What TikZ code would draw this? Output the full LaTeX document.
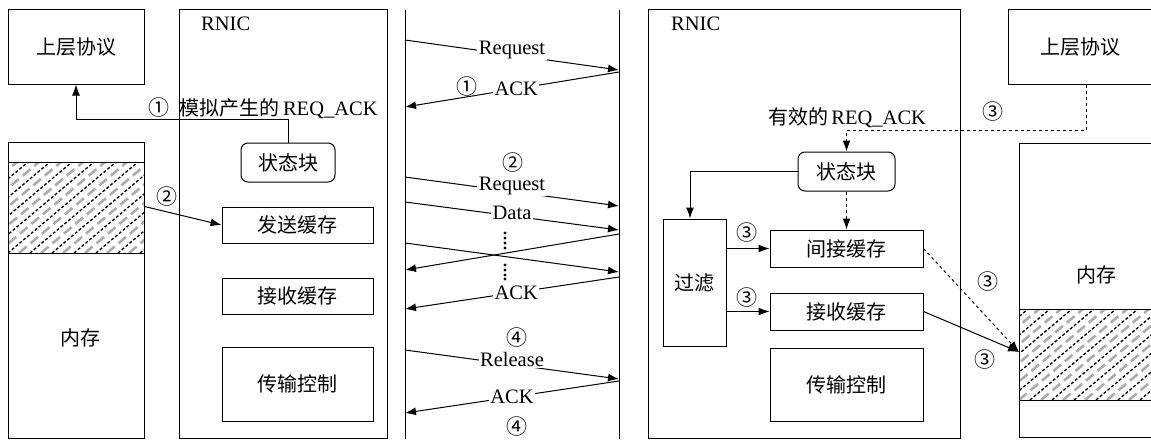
\documentclass[tikz,border=0pt]{standalone}
\usepackage{fontspec}
\setmainfont{Liberation Serif}
\newfontfamily\cjk{Noto Sans CJK SC}
\usetikzlibrary{arrows.meta,calc}
\newcommand\zhtxt[1]{{\cjk\fontsize{20}{23}\selectfont #1}}
\newcommand\circd[1]{{\cjk\fontsize{21}{24}\selectfont #1}}
\begin{document}
\begin{tikzpicture}[x=1pt,y=-1pt,
  every node/.style={font=\fontsize{20.5}{23}\selectfont, inner sep=0pt},
  box/.style={draw, line width=1pt},
  rbox/.style={draw, line width=1pt, rounded corners=7pt},
  arr/.style={-{Latex[length=11pt,width=8pt]}, line width=1pt},
  lbl/.style={fill=white, inner sep=1.5pt},
  life/.style={line width=1pt},
  hatchblack/.style={black, line width=1.3pt, dash pattern=on 3pt off 2pt},
  hatchgray/.style={gray!65, line width=2.6pt, dash pattern=on 10pt off 5pt}]
\useasboundingbox (0,0) rectangle (1151,439);

% ---------------- left part ----------------
\node[box, minimum width=136pt, minimum height=75pt] (up1) at (76,46.5) {\zhtxt{上层协议}};
\node[box, minimum width=208pt, minimum height=429pt] (rnic1) at (283,223.5) {};
\node[anchor=west] (rnic1lbl) at (201,24) {RNIC};
\node[rbox, minimum width=94pt, minimum height=39pt] (st1) at (288,162.5) {\zhtxt{状态块}};
\node[box, minimum width=151pt, minimum height=36pt] (send1) at (297.5,225) {\zhtxt{发送缓存}};
\node[box, minimum width=151pt, minimum height=36pt] (recv1) at (297.5,296) {\zhtxt{接收缓存}};
\node[box, minimum width=151pt, minimum height=74pt] (ctrl1) at (297.5,384) {\zhtxt{传输控制}};

\begin{scope}
  \clip (8,162) rectangle (144,253);
  \foreach \i in {-6,...,7} {
    \draw[hatchblack] (8+\i*22,253) -- ++(108,-91);
    \draw[hatchgray] (19+\i*22,253) -- ++(108,-91);
  }
\end{scope}
\node[box, minimum width=136pt, minimum height=296pt] (mem1) at (76,290) {};
\draw[line width=1pt] (8,162) -- (144,162);
\draw[line width=1pt] (8,253) -- (144,253);
\node (mem1lbl) at (80,338) {\zhtxt{内存}};

\draw[arr] (st1.north) -- ++(0,-23) -| (up1.south);
\node (l1) at (263,108) {\circd{①}\ \ \zhtxt{模拟产生的}\,REQ\_ACK};
\draw[arr] (mem1.east |- send1.north) -- (send1.west);
\node (l2) at (167,197) {\circd{②}};

% ---------------- middle part ----------------
\coordinate (la) at (405,10); \coordinate (lab) at (405,439);
\coordinate (lb) at (619,10); \coordinate (lbb) at (619,439);
\draw[life] (la) -- (lab);
\draw[life] (lb) -- (lbb);

\coordinate (a1) at (405,40);  \coordinate (b1) at (619,70);
\coordinate (b2) at (619,72);  \coordinate (a2) at (405,107);
\coordinate (a3) at (405,177); \coordinate (b3) at (619,206);
\coordinate (a4) at (405,202); \coordinate (b4) at (619,230);
\coordinate (a5) at (405,243); \coordinate (b5) at (619,272);
\coordinate (b6) at (619,234); \coordinate (a6) at (405,270);
\coordinate (b7) at (619,277); \coordinate (a7) at (405,309);
\coordinate (a8) at (405,350); \coordinate (b8) at (619,379);
\coordinate (b9) at (619,381); \coordinate (a9) at (405,413);

\draw[arr] (a1) -- node[lbl, yshift=5pt] {Request} (b1);
\draw[arr] (b2) -- node[lbl, pos=0.48] {ACK} (a2);
\node (c1) at (467,87) {\circd{①}};
\node (c2) at (513,163) {\circd{②}};
\draw[arr] (a3) -- node[lbl, yshift=6pt] {Request} (b3);
\draw[arr] (a4) -- node[lbl, yshift=3pt] {Data} (b4);
\draw[arr] (a5) -- (b5);
\draw[arr] (b6) -- (a6);
\foreach \yy in {233,238,243,248,265,270,275,279} \fill (505,\yy) circle (1.6pt);
\draw[arr] (b7) -- node[lbl, pos=0.48] {ACK} (a7);
\node (c4a) at (517,338) {\circd{④}};
\draw[arr] (a8) -- node[lbl, yshift=5pt] {Release} (b8);
\draw[arr] (b9) -- node[lbl, pos=0.5] {ACK} (a9);
\node (c4b) at (517,427) {\circd{④}};

% ---------------- right part ----------------
\node[box, minimum width=312pt, minimum height=429pt] (rnic2) at (804,223.5) {};
\node[anchor=west] (rnic2lbl) at (671,24) {RNIC};
\node[box, minimum width=144pt, minimum height=75pt] (up2) at (1080,46.5) {\zhtxt{上层协议}};
\node[rbox, minimum width=97pt, minimum height=39pt] (st2) at (846.5,171.5) {\zhtxt{状态块}};
\node[box, minimum width=63pt, minimum height=127pt] (filt) at (694.5,282.5) {\zhtxt{过滤}};
\node[box, minimum width=153pt, minimum height=37pt] (ind) at (846.5,248.5) {\zhtxt{间接缓存}};
\node[box, minimum width=153pt, minimum height=37pt] (recv2) at (846.5,311.5) {\zhtxt{接收缓存}};
\node[box, minimum width=153pt, minimum height=73pt] (ctrl2) at (846.5,384.5) {\zhtxt{传输控制}};

\begin{scope}
  \clip (1019,309) rectangle (1152,400);
  \foreach \i in {-6,...,7} {
    \draw[hatchgray] (1019+\i*22,400) -- ++(108,-91);
    \draw[hatchblack] (1030+\i*22,400) -- ++(108,-91);
  }
\end{scope}
\node[box, minimum width=133pt, minimum height=294pt] (mem2) at (1085.5,290) {};
\draw[line width=1pt] (1019,309) -- (1152,309);
\draw[line width=1pt] (1019,400) -- (1152,400);
\node (mem2lbl) at (1096,275) {\zhtxt{内存}};

\draw[arr, dashed] ([xshift=6pt]up2.south) |- ([yshift=21pt]st2.north) -- (st2.north);
\node (r3a) at (993,112) {\circd{③}};
\node (l3) at (847,118) {\zhtxt{有效的}\,REQ\_ACK};
\draw[arr] (st2.west) -| ([xshift=-4.5pt]filt.north);
\draw[arr, dashed] (st2.south) -- (ind.north);
\draw[arr] (filt.east |- ind.west) -- (ind.west);
\node (r3b) at (747,233) {\circd{③}};
\draw[arr] (filt.east |- recv2.west) -- (recv2.west);
\node (r3c) at (747,298) {\circd{③}};
\coordinate (m2in) at (1019,352);
\draw[arr, dashed] (ind.east) -- (m2in);
\draw[arr] (recv2.east) -- (m2in);
\node (r3d) at (988,282) {\circd{③}};
\node (r3e) at (985,360) {\circd{③}};
\end{tikzpicture}
\end{document}
